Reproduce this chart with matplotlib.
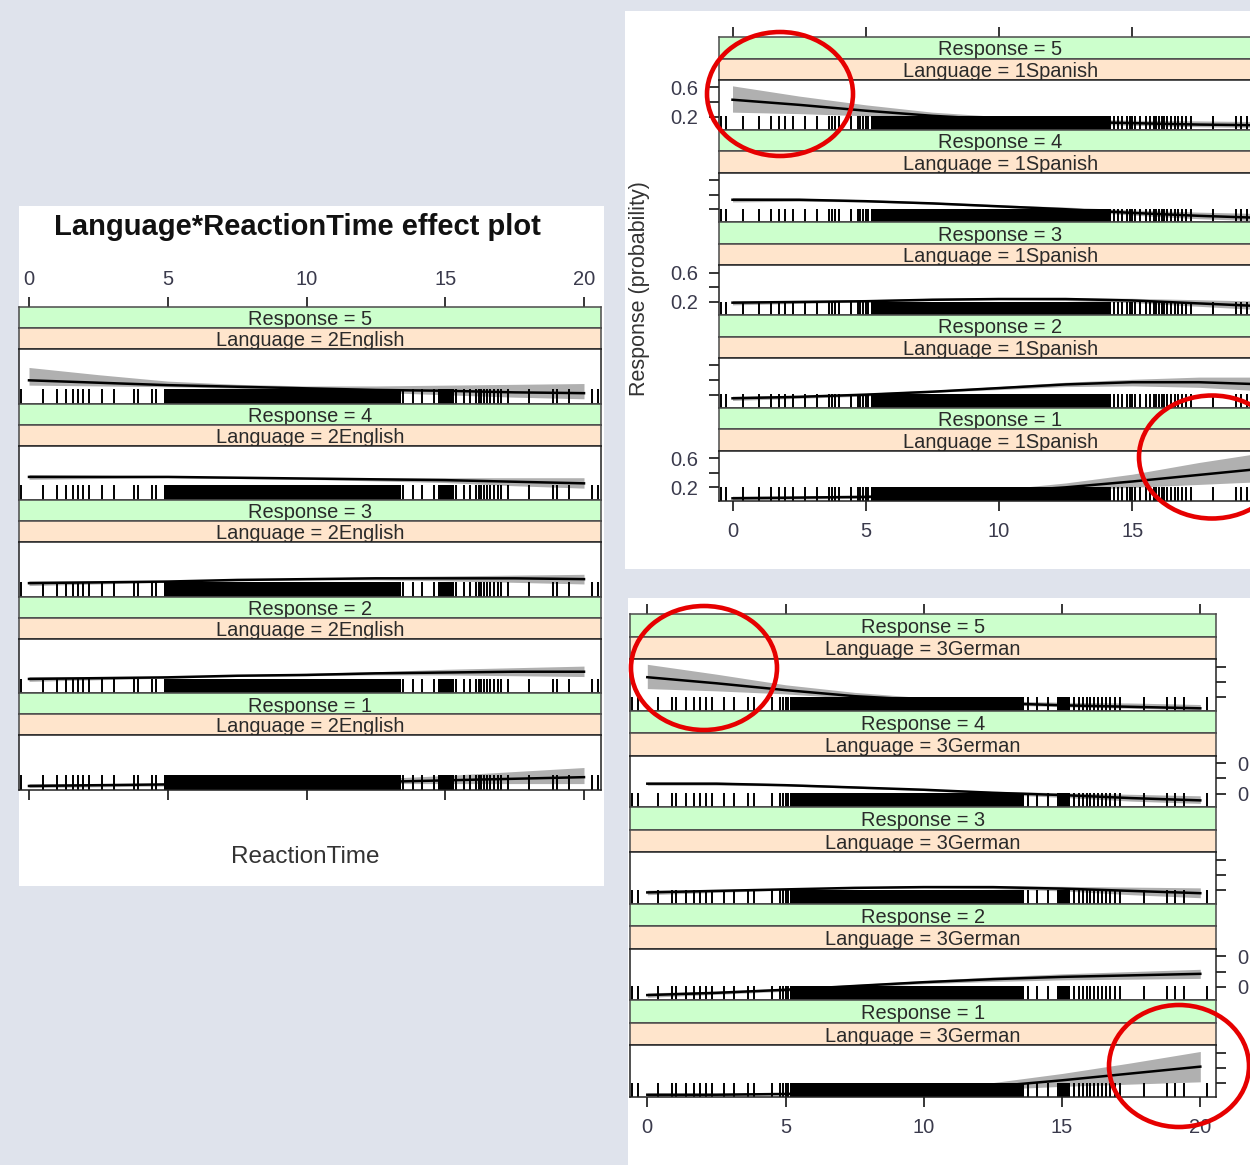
import matplotlib
matplotlib.use("Agg")
import matplotlib.pyplot as plt
from matplotlib.patches import Rectangle, Ellipse

W, H = 1250, 1165
plt.rcParams["font.family"] = ["Liberation Sans", "DejaVu Sans"]

# ---- data ----
reaction_time = [0, 2.5, 5, 7.5, 10, 12.5, 15, 17.5, 20]
responses = ["5", "4", "3", "2", "1"]
x_ticks = [0, 5, 10, 15, 20]

# rows: Response 5, 4, 3, 2, 1
english_fit = [[0.31, 0.28, 0.25, 0.23, 0.21, 0.19, 0.18, 0.16, 0.15],
               [0.31, 0.31, 0.31, 0.30, 0.29, 0.28, 0.27, 0.25, 0.23],
               [0.19, 0.20, 0.21, 0.23, 0.24, 0.25, 0.25, 0.25, 0.24],
               [0.20, 0.21, 0.22, 0.24, 0.25, 0.27, 0.28, 0.29, 0.29],
               [0.07, 0.08, 0.09, 0.10, 0.11, 0.12, 0.14, 0.16, 0.18]]
english_lo = [[0.25, 0.24, 0.23, 0.21, 0.19, 0.16, 0.13, 0.10, 0.08],
              [0.28, 0.29, 0.30, 0.29, 0.28, 0.26, 0.24, 0.20, 0.17],
              [0.16, 0.18, 0.20, 0.22, 0.23, 0.23, 0.22, 0.20, 0.18],
              [0.17, 0.19, 0.21, 0.23, 0.24, 0.25, 0.25, 0.24, 0.23],
              [0.05, 0.06, 0.07, 0.08, 0.09, 0.10, 0.10, 0.10, 0.10]]
english_hi = [[0.47, 0.38, 0.30, 0.26, 0.24, 0.24, 0.25, 0.26, 0.27],
              [0.34, 0.33, 0.32, 0.31, 0.30, 0.30, 0.30, 0.30, 0.30],
              [0.22, 0.22, 0.22, 0.24, 0.25, 0.27, 0.28, 0.29, 0.30],
              [0.23, 0.23, 0.23, 0.25, 0.27, 0.29, 0.32, 0.34, 0.36],
              [0.10, 0.10, 0.10, 0.11, 0.13, 0.16, 0.20, 0.25, 0.30]]

spanish_fit = [[0.43, 0.36, 0.28, 0.21, 0.16, 0.13, 0.11, 0.09, 0.08],
               [0.33, 0.33, 0.31, 0.28, 0.24, 0.20, 0.15, 0.11, 0.08],
               [0.19, 0.20, 0.21, 0.23, 0.24, 0.24, 0.22, 0.18, 0.14],
               [0.15, 0.17, 0.20, 0.24, 0.29, 0.34, 0.37, 0.37, 0.34],
               [0.05, 0.06, 0.07, 0.10, 0.14, 0.20, 0.28, 0.37, 0.46]]
spanish_lo = [[0.26, 0.24, 0.21, 0.17, 0.13, 0.10, 0.08, 0.06, 0.05],
              [0.30, 0.31, 0.30, 0.27, 0.23, 0.18, 0.12, 0.07, 0.04],
              [0.16, 0.18, 0.20, 0.22, 0.23, 0.22, 0.19, 0.14, 0.09],
              [0.12, 0.15, 0.18, 0.23, 0.27, 0.31, 0.32, 0.30, 0.25],
              [0.03, 0.04, 0.05, 0.08, 0.12, 0.16, 0.20, 0.24, 0.28]]
spanish_hi = [[0.62, 0.48, 0.36, 0.26, 0.20, 0.17, 0.15, 0.14, 0.13],
              [0.36, 0.35, 0.33, 0.30, 0.26, 0.23, 0.19, 0.16, 0.14],
              [0.22, 0.22, 0.23, 0.25, 0.26, 0.26, 0.25, 0.23, 0.21],
              [0.18, 0.19, 0.22, 0.26, 0.31, 0.37, 0.41, 0.44, 0.44],
              [0.08, 0.08, 0.09, 0.12, 0.17, 0.26, 0.38, 0.54, 0.68]]

german_fit = [[0.46, 0.38, 0.29, 0.21, 0.16, 0.12, 0.09, 0.07, 0.05],
              [0.33, 0.33, 0.31, 0.28, 0.25, 0.21, 0.18, 0.14, 0.11],
              [0.17, 0.19, 0.21, 0.23, 0.24, 0.24, 0.22, 0.19, 0.16],
              [0.09, 0.12, 0.16, 0.21, 0.26, 0.30, 0.33, 0.35, 0.37],
              [0.05, 0.05, 0.06, 0.08, 0.11, 0.16, 0.24, 0.33, 0.42]]
german_lo = [[0.31, 0.28, 0.24, 0.18, 0.13, 0.10, 0.07, 0.05, 0.03],
             [0.31, 0.31, 0.30, 0.27, 0.24, 0.19, 0.15, 0.10, 0.07],
             [0.14, 0.17, 0.20, 0.22, 0.23, 0.22, 0.19, 0.14, 0.10],
             [0.06, 0.10, 0.14, 0.19, 0.24, 0.27, 0.29, 0.30, 0.31],
             [0.03, 0.04, 0.05, 0.07, 0.09, 0.12, 0.16, 0.19, 0.22]]
german_hi = [[0.63, 0.50, 0.36, 0.26, 0.19, 0.15, 0.13, 0.12, 0.10],
             [0.35, 0.35, 0.33, 0.30, 0.26, 0.23, 0.21, 0.19, 0.17],
             [0.20, 0.21, 0.22, 0.24, 0.26, 0.26, 0.25, 0.24, 0.23],
             [0.12, 0.14, 0.18, 0.23, 0.28, 0.33, 0.37, 0.40, 0.43],
             [0.07, 0.07, 0.08, 0.10, 0.14, 0.21, 0.33, 0.47, 0.62]]

# rug of observed reaction times; solid black stretches given as spans
english_rug = [-0.29, 0.5, 1.0, 1.35, 1.57, 1.78, 1.95, 2.18, 2.64, 3.06, 3.78, 3.92,
               4.42, 4.56, 13.47, 13.83, 14.18, 14.6, 15.4, 15.68, 15.9, 16.1, 16.2,
               16.3, 16.4, 16.5, 16.6, 16.75, 16.9, 17.0, 17.25, 18.03, 18.9, 19.03,
               19.46, 20.3, 20.5]
english_dense = [(4.85, 13.4), (14.75, 15.3)]
spanish_rug = [-0.45, -0.23, 0.38, 0.98, 1.43, 1.73, 1.96, 2.26, 2.71, 3.17, 3.62,
               3.75, 3.85, 4.0, 4.45, 4.7, 4.8, 4.9, 5.0, 5.1, 14.3, 14.47, 14.6,
               14.8, 14.9, 15.0, 15.1, 15.3, 15.5, 15.67, 15.8, 15.9, 16.0, 16.1,
               16.2, 16.3, 16.45, 16.6, 16.7, 16.85, 17.0, 17.2, 18.04, 18.9, 19.08,
               19.3, 19.9, 20.3]
spanish_dense = [(5.2, 14.2)]
german_rug = [-0.55, -0.33, 0.39, 0.90, 1.04, 1.40, 1.69, 1.91, 2.12, 2.34, 2.77,
              3.14, 3.64, 3.86, 4.51, 4.8, 4.9, 5.0, 5.1, 13.76, 14.1, 14.5, 15.45,
              15.6, 15.75, 15.9, 16.0, 16.15, 16.3, 16.45, 16.6, 16.75, 16.9, 17.1,
              17.95, 18.8, 19.1, 19.4, 20.26]
german_dense = [(5.16, 13.61), (14.8, 15.3)]

y_ticks = [0.2, 0.4, 0.6]
y_labels = ["0.2", "", "0.6"]

# ---- styling ----
BG = "#dfe3ec"
GREEN = "#ccffcc"
PEACH = "#ffe5cc"
BAND = "#b0b0b0"
TXT = "#2a2a2a"
TICKTXT = "#3a3a4c"
YMIN, YMAX = 0.02, 0.70
RUG_H = 0.27
TICK_FS = 14.5


def frac(x0, y0, x1, y1):
    return [x0 / W, 1 - y1 / H, (x1 - x0) / W, (y1 - y0) / H]


fig = plt.figure(figsize=(W / 100, H / 100), dpi=100, facecolor=BG)


def card(x0, y0, x1, y1):
    fig.add_artist(Rectangle((x0 / W, 1 - y1 / H), (x1 - x0) / W, (y1 - y0) / H,
                             transform=fig.transFigure, facecolor="white",
                             edgecolor="none", zorder=-1))


def draw_card(lang, fit, lo, hi, rug, dense, left, right, t0, unit, top, period, sh,
              top_labels=False, bottom_labels=None, yside=None, label_rows=()):
    xmin = (left - t0) / unit
    xmax = (right - t0) / unit
    for r, resp in enumerate(responses):
        y = top + r * period
        strips = [("Response = " + resp, GREEN), ("Language = " + lang, PEACH)]
        for k, (txt, col) in enumerate(strips):
            s = fig.add_axes(frac(left, y + k * sh, right, y + (k + 1) * sh))
            s.set_facecolor(col)
            s.set_xlim(xmin, xmax)
            s.set_yticks([])
            s.set_xticks([])
            for sp in s.spines.values():
                sp.set_color("#4a4a4a")
                sp.set_linewidth(1.1)
            s.text(0.5, 0.40, txt, transform=s.transAxes, ha="center", va="center",
                   fontsize=14.4, color=TXT)
            if r == 0 and k == 0:
                s.set_xticks(x_ticks)
                s.tick_params(axis="x", top=True, bottom=False, labeltop=top_labels,
                              labelbottom=False, direction="out", length=7.2,
                              width=1.1, pad=6, labelsize=TICK_FS, labelcolor=TICKTXT)
        ax = fig.add_axes(frac(left, y + 2 * sh, right, y + period))
        ax.fill_between(reaction_time, lo[r], hi[r], color=BAND, lw=0, zorder=1)
        tr = ax.get_xaxis_transform()
        ax.vlines(rug, 0, RUG_H, transform=tr, color="k", lw=1.4, zorder=2)
        for a, b in dense:
            ax.add_patch(Rectangle((a, 0), b - a, RUG_H, transform=tr,
                                   facecolor="k", lw=0, zorder=2))
        ax.plot(reaction_time, fit[r], color="k", lw=1.8, zorder=3)
        ax.set_xlim(xmin, xmax)
        ax.set_ylim(YMIN, YMAX)
        for sp in ax.spines.values():
            sp.set_color("#222222")
            sp.set_linewidth(1.1)
        if yside:
            ax.set_yticks(y_ticks)
            ax.set_yticklabels(y_labels if r in label_rows else ["", "", ""])
            ax.tick_params(axis="y", left=(yside == "left"), right=(yside == "right"),
                           labelleft=(yside == "left"), labelright=(yside == "right"),
                           direction="out", length=7.2, width=1.1, pad=8,
                           labelsize=TICK_FS, labelcolor=TICKTXT)
        else:
            ax.set_yticks([])
        if r == len(responses) - 1:
            ax.set_xticks(x_ticks)
            if bottom_labels is None:
                ax.set_xticklabels([""] * len(x_ticks))
            else:
                ax.set_xticklabels(bottom_labels)
            ax.tick_params(axis="x", direction="out", length=7.2, width=1.1, pad=8,
                           labelsize=TICK_FS, labelcolor=TICKTXT)
        else:
            ax.set_xticks([])


# left card: English
card(19, 206, 604, 886)
fig.text(297 / W, 1 - 227 / H, "Language*ReactionTime effect plot", ha="center",
         va="center", fontsize=21, fontweight="bold", color="#111111")
draw_card("2English", english_fit, english_lo, english_hi, english_rug, english_dense,
          left=19, right=601, t0=29, unit=27.75, top=307, period=96.6, sh=21,
          top_labels=True)
fig.text(305 / W, 1 - 857 / H, "ReactionTime", ha="center", va="center",
         fontsize=17.5, color="#333333")

# top-right card: Spanish (the 20 label lies past the slide edge)
card(625, 11, 1260, 569)
draw_card("1Spanish", spanish_fit, spanish_lo, spanish_hi, spanish_rug, spanish_dense,
          left=719, right=1282, t0=732.5, unit=26.65, top=37, period=92.7, sh=21.5,
          bottom_labels=["0", "5", "10", "15", ""], yside="left", label_rows=(0, 2, 4))
fig.text(640 / W, 1 - 289 / H, "Response (probability)", rotation=90, ha="center",
         va="center", fontsize=15.5, color="#333333")

# bottom-right card: German
card(628, 598, 1260, 1170)
draw_card("3German", german_fit, german_lo, german_hi, german_rug, german_dense,
          left=630, right=1216, t0=647.3, unit=27.65, top=614, period=96.6, sh=22.5,
          bottom_labels=["0", "5", "10", "15", "20"], yside="right", label_rows=(1, 3))

# red highlight circles
for cx, cy, w, h in [(780, 94, 146, 124), (1212, 457, 146, 123),
                     (704, 668, 146, 124), (1179, 1066, 140, 122)]:
    fig.add_artist(Ellipse((cx / W, 1 - cy / H), w / W, h / H, transform=fig.transFigure,
                           fill=False, edgecolor="#e60000", lw=3.3, zorder=10))

fig.savefig("out.png", dpi=100, facecolor=BG)
